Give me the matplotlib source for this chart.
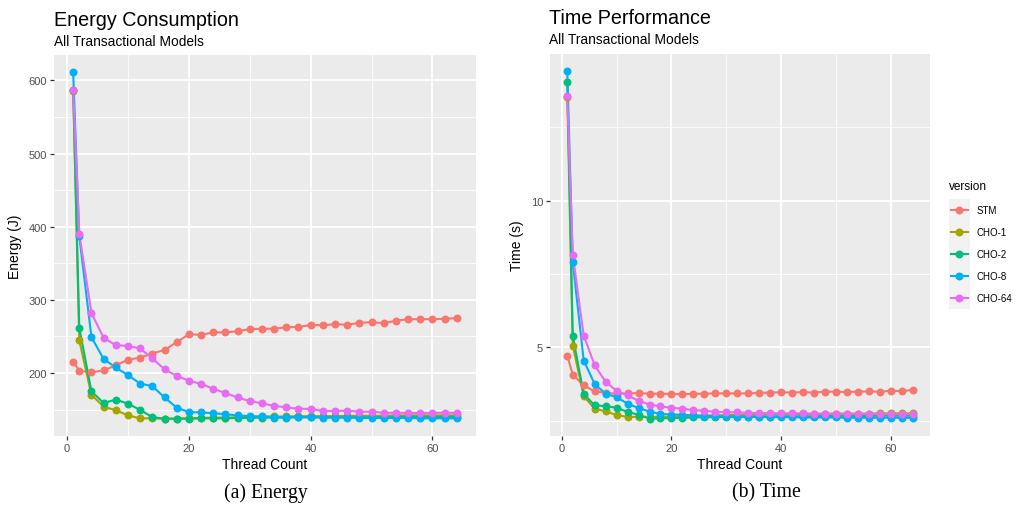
import matplotlib
matplotlib.use("Agg")
import matplotlib.pyplot as plt
from matplotlib.lines import Line2D
from matplotlib.patches import Rectangle
from matplotlib.ticker import FixedLocator

plt.rcParams['font.family'] = ['Liberation Sans', 'DejaVu Sans']

threads = [1, 2, 4, 6, 8, 10, 12, 14, 16, 18, 20, 22, 24, 26, 28, 30, 32,
           34, 36, 38, 40, 42, 44, 46, 48, 50, 52, 54, 56, 58, 60, 62, 64]

versions = ["STM", "CHO-1", "CHO-2", "CHO-8", "CHO-64"]
colors = ["#F8766D", "#A3A500", "#00BF7D", "#00B0F6", "#E76BF3"]

energy_stm = [215.5, 203, 201, 203.5, 210.5, 218, 221, 226.5, 231.5, 242, 253,
              252, 255.5, 255.5, 257, 260, 260.5, 260.5, 262.5, 263, 265.5,
              265.5, 266.5, 266, 268.5, 269.5, 268, 271.5, 273.5, 273.5, 273.5,
              274, 275]
energy_cho1 = [586, 244.5, 170, 154, 149, 142, 138, 138, 137.5, 137.5, 138,
               138.5, 139, 139, 139.5, 140, 140, 140.5, 140.5, 141, 141, 141,
               141, 141.5, 141.5, 141.5, 141.5, 142, 142, 142, 142, 142, 142]
energy_cho2 = [587.5, 261.5, 175, 159, 163.5, 158, 149.5, 139.5, 137.5, 137.5,
               137.5, 138, 138, 138, 138.5, 138.5, 139, 139, 139, 139.5, 139.5,
               139.5, 139.5, 139.5, 139.5, 139.5, 140, 140, 140, 140, 140, 140,
               140]
energy_cho8 = [611, 387, 249, 219, 207.5, 197, 185.5, 182, 166.5, 152.5, 146.5,
               146, 145, 143.5, 142, 141, 140.5, 140, 139.5, 139.5, 139.5, 139,
               139, 139, 138.5, 138.5, 138.5, 138.5, 138.5, 138, 138, 138, 138]
energy_cho64 = [586.5, 390.5, 282, 248, 238, 237, 233.5, 220, 205, 196, 189.5,
                185, 178.5, 172.5, 166.5, 161.5, 158.5, 155, 153, 151, 151, 148,
                148, 148.5, 147, 147, 145.5, 145.5, 145.5, 145, 145.5, 145.5,
                145.5]

time_stm = [4.72, 4.07, 3.70, 3.50, 3.45, 3.42, 3.43, 3.44, 3.42, 3.42, 3.41,
            3.40, 3.42, 3.42, 3.43, 3.43, 3.43, 3.43, 3.45, 3.46, 3.47, 3.46,
            3.47, 3.46, 3.49, 3.49, 3.48, 3.49, 3.50, 3.49, 3.52, 3.51, 3.55]
time_cho1 = [13.55, 5.06, 3.33, 2.91, 2.82, 2.69, 2.63, 2.63, 2.63, 2.63, 2.64,
             2.65, 2.66, 2.67, 2.68, 2.69, 2.70, 2.70, 2.71, 2.71, 2.72, 2.72,
             2.73, 2.73, 2.73, 2.74, 2.74, 2.74, 2.74, 2.75, 2.75, 2.75, 2.75]
time_cho2 = [14.06, 5.39, 3.41, 3.02, 3.00, 2.94, 2.80, 2.70, 2.57, 2.58, 2.59,
             2.60, 2.61, 2.62, 2.62, 2.63, 2.63, 2.64, 2.64, 2.64, 2.65, 2.65,
             2.65, 2.65, 2.66, 2.66, 2.66, 2.66, 2.66, 2.67, 2.67, 2.67, 2.67]
time_cho8 = [14.41, 7.90, 4.55, 3.75, 3.42, 3.30, 3.08, 2.93, 2.81, 2.73, 2.71,
             2.70, 2.68, 2.67, 2.66, 2.65, 2.64, 2.64, 2.63, 2.63, 2.62, 2.62,
             2.61, 2.61, 2.61, 2.61, 2.60, 2.60, 2.60, 2.60, 2.60, 2.60, 2.60]
time_cho64 = [13.58, 8.16, 5.40, 4.39, 3.82, 3.52, 3.36, 3.18, 3.05, 2.99, 2.94,
              2.91, 2.86, 2.84, 2.80, 2.79, 2.78, 2.77, 2.76, 2.76, 2.75, 2.75,
              2.75, 2.74, 2.74, 2.74, 2.73, 2.73, 2.73, 2.73, 2.72, 2.72, 2.72]

energy = [energy_stm, energy_cho1, energy_cho2, energy_cho8, energy_cho64]
times = [time_stm, time_cho1, time_cho2, time_cho8, time_cho64]

W, H = 1020, 510
fig = plt.figure(figsize=(W / 100, H / 100), dpi=100)
fig.patch.set_facecolor("white")


def fx(px):
    return px / W


def fy(py):
    return 1 - py / H


PANEL_BG = "#EBEBEB"
TICK_COLOR = "#4D4D4D"


def gg_axes(rect, series, y_major, y_minor):
    ax = fig.add_axes(rect)
    ax.set_facecolor(PANEL_BG)
    for s in ax.spines.values():
        s.set_visible(False)
    for vals, c in zip(series, colors):
        ax.plot(threads, vals, color=c, lw=1.5, zorder=3,
                solid_capstyle="round")
    for vals, c in zip(series, colors):
        ax.plot(threads, vals, ls="none", marker="o", ms=4.7, color=c,
                mec=c, zorder=4)
    ax.margins(x=0.05, y=0.05)
    ax.xaxis.set_major_locator(FixedLocator([0, 20, 40, 60]))
    ax.xaxis.set_minor_locator(FixedLocator([10, 30, 50]))
    ax.yaxis.set_major_locator(FixedLocator(y_major))
    ax.yaxis.set_minor_locator(FixedLocator(y_minor))
    ax.grid(which="major", color="white", lw=1.3, zorder=1)
    ax.grid(which="minor", color="white", lw=0.6, zorder=1)
    ax.set_axisbelow(True)
    ax.tick_params(which="major", length=3, width=0.9, color="#333333",
                   labelsize=8, labelcolor=TICK_COLOR, pad=2)
    ax.tick_params(which="minor", length=0)
    return ax


# Left panel: energy
axL = gg_axes([fx(54), fy(437), fx(476) - fx(54), fy(56) - fy(437)],
              energy, [200, 300, 400, 500, 600],
              [150, 250, 350, 450, 550])
axL.set_xlabel("Thread Count", fontsize=10, labelpad=3)
axL.set_ylabel("Energy (J)", fontsize=10, labelpad=5)
fig.text(fx(54), fy(20), "Energy Consumption", fontsize=14.2, va="center",
         ha="left")
fig.text(fx(54), fy(42), "All Transactional Models", fontsize=9.9,
         va="center", ha="left")

# Right panel: time
axR = gg_axes([fx(550), fy(437), fx(930) - fx(550), fy(55) - fy(437)],
              times, [5, 10], [2.5, 7.5, 12.5])
axR.set_xlabel("Thread Count", fontsize=10, labelpad=3)
axR.set_ylabel("Time (s)", fontsize=10, labelpad=5)
fig.text(fx(549), fy(18), "Time Performance", fontsize=14.2, va="center",
         ha="left")
fig.text(fx(549), fy(40), "All Transactional Models", fontsize=9.9,
         va="center", ha="left")

# Legend
fig.text(fx(949), fy(187), "version", fontsize=8.5, va="center", ha="left")
key_top, key_step = 200, 22
fig.add_artist(Rectangle((fx(949), fy(key_top + key_step * 5)),
                         fx(970) - fx(949), fy(key_top) - fy(key_top + key_step * 5),
                         transform=fig.transFigure, facecolor="#F2F2F2",
                         edgecolor="none", zorder=0))
for i, (name, c) in enumerate(zip(versions, colors)):
    yc = key_top + key_step * (i + 0.5)
    fig.add_artist(Line2D([fx(951), fx(968)], [fy(yc), fy(yc)],
                          transform=fig.transFigure, color=c, lw=1.5))
    fig.add_artist(Line2D([fx(959.5)], [fy(yc)], transform=fig.transFigure,
                          color=c, marker="o", ms=4.7, ls="none"))
    fig.text(fx(977), fy(yc), name, fontsize=7, va="center", ha="left")

# Sub-figure captions
cap_font = ['Liberation Serif', 'DejaVu Serif']
fig.text(fx(266), fy(493), "(a) Energy", fontsize=14.2, family=cap_font,
         ha="center", va="center")
fig.text(fx(766), fy(493), "(b) Time", fontsize=14.2, family=cap_font,
         ha="center", va="center")

fig.savefig("out.png", dpi=100, facecolor="white")
